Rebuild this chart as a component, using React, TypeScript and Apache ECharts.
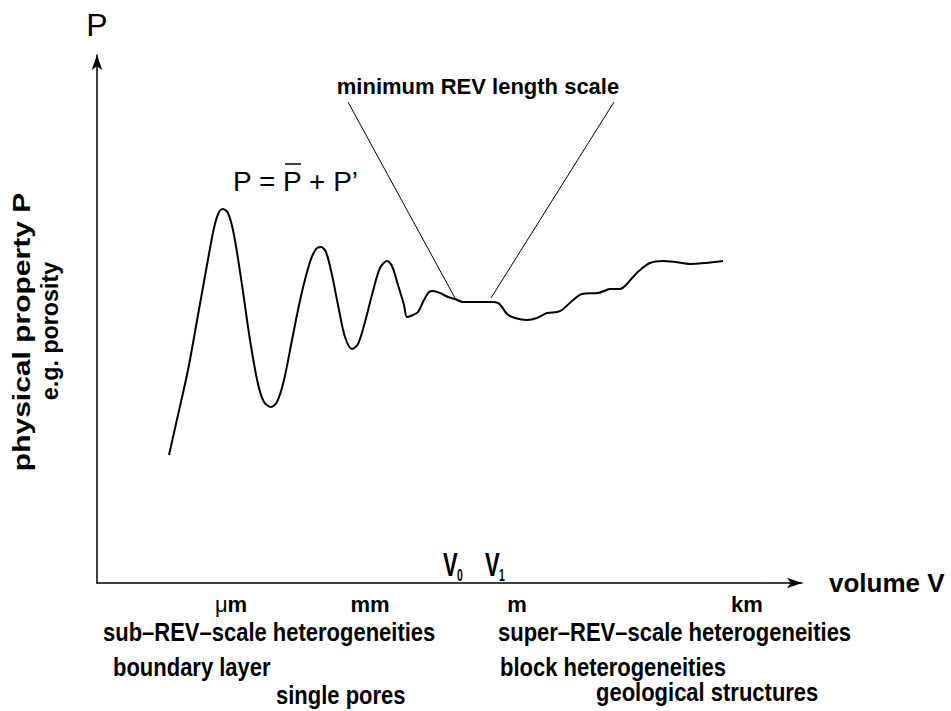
import React, { useEffect, useRef } from "react";
import * as echarts from "echarts";

// volume (arbitrary, log-like units along the axis) and property value P
const volume = [
  72, 81, 91, 101, 110, 117, 122, 126, 131, 137, 145, 153, 161, 167, 174, 180, 187,
  195, 204, 213, 219, 224, 229, 235, 242, 248, 255, 261, 268, 276, 283, 290, 295,
  301, 307, 310, 316, 321, 327, 332, 336, 343, 351, 358, 366, 378, 395, 401, 405,
  410, 418, 430, 440, 450, 460, 465, 475, 485, 501, 507, 513, 523, 528, 536, 543,
  553, 566, 578, 593, 608, 626,
];
const property = [
  128, 168, 213, 268, 318, 355, 371, 374, 370, 348, 298, 243, 199, 181, 176, 181, 203,
  243, 287, 321, 334, 336, 331, 308, 273, 246, 234, 239, 261, 292, 315, 322, 317,
  298, 278, 266, 268, 271, 283, 291, 292, 290, 286, 284, 281, 281, 281, 280, 276,
  269, 265, 263, 265, 270, 271, 273, 282, 289, 290, 292, 294, 294, 297, 306, 313,
  320, 322, 321, 319, 320, 322,
];

// leader lines from the "minimum REV length scale" note to V0 and V1
const leaderStart = [
  [251, 481],
  [517, 481],
];
const leaderEnd = [
  [358, 285],
  [394, 285],
];

// length-scale tick labels along the volume axis
const scaleLabels = ["μm", "mm", "m", "km"];
const scaleAt = [134, 273, 420, 650];

const FONT = '"Liberation Sans", Arial, Helvetica, sans-serif';

export default function App() {
  const ref = useRef<HTMLDivElement>(null);

  useEffect(() => {
    if (!ref.current) return;
    const chart = echarts.init(ref.current, null, { renderer: "svg" });

    const bold = (size: number) => `bold ${size}px ${FONT}`;
    const txt = (
      text: string,
      x: number,
      y: number,
      font: string,
      align: string = "left",
      opts: any = {}
    ) => ({
      type: "text",
      x,
      y,
      silent: true,
      ...opts,
      style: {
        text,
        font,
        fill: "#000",
        textAlign: align,
        textVerticalAlign: "middle",
      },
    });
    const tall = { scaleY: 1.15 };

    const option: any = {
      animation: false,
      backgroundColor: "#fff",
      grid: { left: 97, right: 149, top: 55, bottom: 128 },
      xAxis: {
        type: "value",
        min: 0,
        max: 705,
        name: "volume V",
        nameLocation: "end",
        nameGap: 27,
        nameTextStyle: {
          fontFamily: FONT,
          fontWeight: "bold",
          fontSize: 26,
          color: "#000",
          verticalAlign: "middle",
        },
        axisLine: {
          show: true,
          onZero: false,
          symbol: ["none", "arrow"],
          symbolSize: [8, 15],
          lineStyle: { color: "#000", width: 1.5 },
        },
        axisTick: { show: false },
        splitLine: { show: false },
        axisLabel: {
          customValues: scaleAt,
          margin: 10,
          color: "#000",
          formatter: (v: number) => {
            const i = scaleAt.indexOf(v);
            const s = i >= 0 ? scaleLabels[i] : "";
            if (s === "μm") return "{mu|μ}{b|m}";
            return "{b|" + s + "}";
          },
          rich: {
            mu: { fontFamily: FONT, fontSize: 22, color: "#000" },
            b: { fontFamily: FONT, fontSize: 22, fontWeight: "bold", color: "#000" },
          },
        },
      },
      yAxis: {
        type: "value",
        min: 0,
        max: 528,
        name: "P",
        nameLocation: "end",
        nameGap: 14,
        nameTextStyle: { fontFamily: FONT, fontSize: 32, color: "#000" },
        axisLine: {
          show: true,
          onZero: false,
          symbol: ["none", "arrow"],
          symbolSize: [8, 15],
          lineStyle: { color: "#000", width: 1.5 },
        },
        axisTick: { show: false },
        axisLabel: { show: false },
        splitLine: { show: false },
      },
      series: [
        {
          type: "line",
          data: volume.map((x, i) => [x, property[i]]),
          smooth: 0.3,
          showSymbol: false,
          symbol: "none",
          lineStyle: { color: "#000", width: 2 },
          markLine: {
            silent: true,
            symbol: ["none", "none"],
            label: { show: false },
            lineStyle: { color: "#000", width: 1, type: "solid" },
            data: leaderStart.map((s, i) => [{ coord: s }, { coord: leaderEnd[i] }]),
          },
        },
      ],
      graphic: [
        txt("minimum REV length scale", 478, 86, bold(22), "center"),
        txt("P = P + P\u2019", 233, 181, `28px ${FONT}`),
        {
          type: "line",
          silent: true,
          shape: { x1: 285, y1: 164, x2: 301, y2: 164 },
          style: { stroke: "#000", lineWidth: 1.5 },
        },
        txt("physical property P", 22, 332, bold(24), "center", {
          rotation: Math.PI / 2,
          scaleX: 1.25,
        }),
        txt("e.g. porosity", 50, 331, bold(24), "center", {
          rotation: Math.PI / 2,
          scaleX: 0.97,
        }),
        txt("V", 443, 565, bold(22), "left", { scaleY: 1.5 }),
        txt("0", 457, 575, bold(13), "left", { scaleX: 0.8, scaleY: 1.3 }),
        txt("V", 485, 565, bold(22), "left", { scaleY: 1.5 }),
        txt("1", 499, 575, bold(13), "left", { scaleX: 0.8, scaleY: 1.3 }),
        txt("sub\u2013REV\u2013scale heterogeneities", 103, 632, bold(22), "left", tall),
        txt("super\u2013REV\u2013scale heterogeneities", 498, 632, bold(22), "left", tall),
        txt("boundary layer", 113, 667, bold(22), "left", tall),
        txt("block heterogeneities", 500, 667, bold(22), "left", tall),
        txt("single pores", 276, 695, bold(22), "left", tall),
        txt("geological structures", 596, 692, bold(22), "left", tall),
      ],
    };

    chart.setOption(option);
    return () => chart.dispose();
  }, []);

  return (
    <div
      ref={ref}
      style={{
        position: "fixed",
        left: 0,
        top: 0,
        width: 951,
        height: 711,
        background: "#fff",
      }}
    />
  );
}
